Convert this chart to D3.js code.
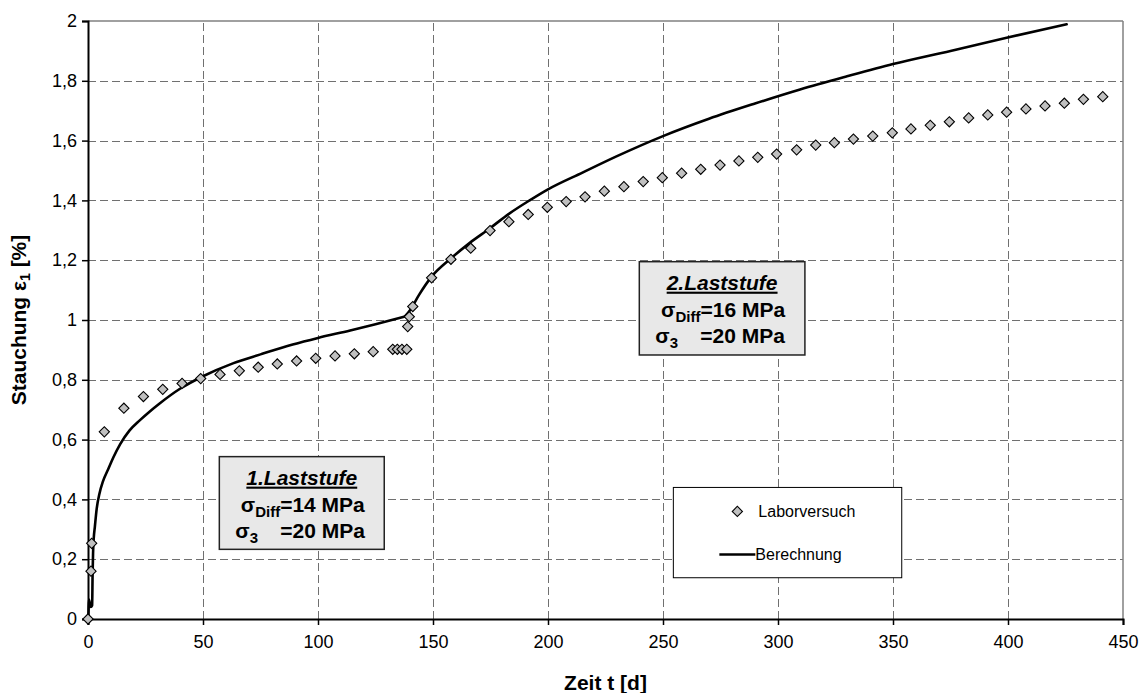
<!DOCTYPE html>
<html>
<head>
<meta charset="utf-8">
<script src="https://cdn.jsdelivr.net/npm/d3@7/dist/d3.min.js"></script>
<style>
  html, body { margin: 0; padding: 0; background: #fff; }
  svg { display: block; font-family: Arial, "Liberation Sans", sans-serif; }
</style>
</head>
<body>
<svg id="chart" width="1144" height="693"></svg>
<script>
// Laborversuch: measured strain over time
const labTime = [0, 1.3, 1.6, 7.1, 15.6, 24.1, 32.5, 40.9, 49.0, 57.4, 65.8, 74.0, 82.3, 90.7, 99.0, 107.4,
  115.8, 124.0, 132.5, 134.5, 136.5, 138.6, 139.0, 139.7, 141.2, 149.4, 157.8, 166.4, 174.8, 183.0,
  191.4, 199.7, 207.9, 216.1, 224.5, 233.0, 241.4, 249.7, 258.1, 266.4, 274.8, 283.0, 291.2, 299.4,
  308.1, 316.4, 324.5, 332.8, 341.2, 349.7, 357.8, 366.2, 374.5, 382.9, 391.2, 399.4, 407.8, 416.1,
  424.5, 432.8, 441.2];
const labStrain = [0, 0.16, 0.253, 0.626, 0.705, 0.744, 0.768, 0.788, 0.804, 0.818, 0.830, 0.842, 0.853, 0.863, 0.872, 0.880,
  0.887, 0.894, 0.902, 0.902, 0.902, 0.902, 0.978, 1.011, 1.045, 1.141, 1.203, 1.240, 1.299, 1.329,
  1.353, 1.377, 1.396, 1.412, 1.431, 1.446, 1.463, 1.476, 1.491, 1.504, 1.518, 1.532, 1.544, 1.555,
  1.569, 1.585, 1.593, 1.605, 1.615, 1.626, 1.639, 1.651, 1.663, 1.676, 1.686, 1.695, 1.706, 1.716,
  1.725, 1.738, 1.747];

// Berechnung, 1st load stage: computed creep curve up to the load change
const calcTime1 = [0, 0.2, 0.4, 1.2, 1.8, 2.0, 2.2, 2.5, 3.0, 3.8, 5.0, 6.5, 9.0, 11, 14, 18, 22.6, 27, 31, 40,
  50, 63, 75, 89, 100, 114, 125, 137.8];
const calcStrain1 = [0, 0.02, 0.065, 0.04, 0.045, 0.15, 0.22, 0.27, 0.31, 0.37, 0.42, 0.46, 0.505, 0.54, 0.585, 0.63, 0.665, 0.695, 0.72, 0.77,
  0.812, 0.855, 0.885, 0.918, 0.94, 0.965, 0.986, 1.012];
// Berechnung, 2nd load stage
const calcTime2 = [137.8, 140, 144, 149.4, 157.8, 166, 174.8, 183, 192.2, 200, 215,
  230, 250, 270, 290, 309.6, 330, 350, 375, 399.4, 425.5];
const calcStrain2 = [1.012, 1.033, 1.085, 1.145, 1.206, 1.258, 1.307, 1.355, 1.401, 1.437, 1.493,
  1.548, 1.615, 1.673, 1.724, 1.771, 1.815, 1.856, 1.90, 1.944, 1.989];

// Axis ticks
const xTicks = [0, 50, 100, 150, 200, 250, 300, 350, 400, 450];
const yTicks = [0, 0.2, 0.4, 0.6, 0.8, 1.0, 1.2, 1.4, 1.6, 1.8, 2.0];

// Annotation boxes: load stages
const stageTitles = ["1.Laststufe", "2.Laststufe"];
const stageDiff = ["=14 MPa", "=16 MPa"];
const stageConf = ["=20 MPa", "=20 MPa"];

const svg = d3.select("#chart");
const margin = { left: 88, right: 21, top: 21, bottom: 74 };
const W = 1144, H = 693;

const x = d3.scaleLinear().domain([0, 450]).range([margin.left, W - margin.right]);
const y = d3.scaleLinear().domain([0, 2]).range([H - margin.bottom, margin.top]);

const fmt = d => d3.format("~g")(+d.toFixed(1)).replace(".", ",");

// grid
const grid = svg.append("g").attr("stroke", "#707070").attr("stroke-width", 1)
  .attr("stroke-dasharray", "8,4").attr("fill", "none");
grid.selectAll("line.v").data(xTicks.slice(1, -1)).join("line")
  .attr("x1", d => Math.round(x(d)) + 0.5).attr("x2", d => Math.round(x(d)) + 0.5)
  .attr("y1", y(0)).attr("y2", y(2));
grid.selectAll("line.h").data(yTicks.slice(1, -1)).join("line")
  .attr("y1", d => Math.round(y(d)) + 0.5).attr("y2", d => Math.round(y(d)) + 0.5)
  .attr("x1", x(0)).attr("x2", x(450));

// frame: top and right in gray
svg.append("line").attr("x1", x(0)).attr("x2", x(450)).attr("y1", y(2)).attr("y2", y(2))
  .attr("stroke", "#808080").attr("stroke-width", 1.5);
svg.append("line").attr("x1", x(450)).attr("x2", x(450)).attr("y1", y(2)).attr("y2", y(0))
  .attr("stroke", "#808080").attr("stroke-width", 1.5);

// axes
const xAxis = svg.append("g").attr("transform", `translate(0,${y(0)})`)
  .call(d3.axisBottom(x).tickValues(xTicks).tickSize(6).tickPadding(10).tickFormat(d3.format("d")));
const yAxis = svg.append("g").attr("transform", `translate(${x(0)},0)`)
  .call(d3.axisLeft(y).tickValues(yTicks).tickSize(6).tickPadding(5).tickFormat(fmt));
[xAxis, yAxis].forEach(a => {
  a.select(".domain").attr("stroke", "#000").attr("stroke-width", 2);
  a.selectAll(".tick line").attr("stroke", "#000").attr("stroke-width", 1.5);
  a.selectAll(".tick text").attr("font-size", 18).attr("fill", "#000")
    .attr("font-family", "Arial, 'Liberation Sans', sans-serif");
});

// axis titles
svg.append("text").attr("x", (x(0) + x(450)) / 2).attr("y", 690)
  .attr("text-anchor", "middle").attr("font-size", 21).attr("font-weight", "bold")
  .text("Zeit t [d]");
const yt = svg.append("text")
  .attr("transform", `translate(26,${(y(0) + y(2)) / 2}) rotate(-90)`)
  .attr("text-anchor", "middle").attr("font-size", 21).attr("font-weight", "bold");
yt.append("tspan").text("Stauchung ε");
yt.append("tspan").attr("font-size", 14).attr("dy", 4).text("1");
yt.append("tspan").attr("dy", -4).text(" [%]");

// annotation boxes (anchored in data coordinates)
const boxes = [
  { t0: 57.1, t1: 128.8, v0: 0.543, v1: 0.233 },
  { t0: 239.7, t1: 311.7, v0: 1.195, v1: 0.883 }
];
boxes.forEach((b, i) => {
  const bx = x(b.t0), by = y(b.v0), bw = x(b.t1) - x(b.t0), bh = y(b.v1) - y(b.v0);
  const g = svg.append("g");
  g.append("rect").attr("x", bx).attr("y", by).attr("width", bw).attr("height", bh)
    .attr("fill", "#e8e8e8").attr("stroke", "#222").attr("stroke-width", 1.5);
  const cx = bx + bw / 2;
  g.append("text").attr("x", cx).attr("y", by + 28).attr("text-anchor", "middle")
    .attr("font-size", 21).attr("font-weight", "bold").attr("font-style", "italic")
    .attr("text-decoration", "underline").text(stageTitles[i]);
  const l2 = g.append("text").attr("x", cx + 1).attr("y", by + 55).attr("text-anchor", "middle")
    .attr("font-size", 21).attr("font-weight", "bold");
  l2.append("tspan").text("σ");
  l2.append("tspan").attr("font-size", 15).attr("dy", 5).text("Diff");
  l2.append("tspan").attr("dy", -5).text(stageDiff[i]);
  const l3 = g.append("text").attr("y", by + 81).attr("font-size", 21).attr("font-weight", "bold");
  l3.append("tspan").attr("x", bx + 16).text("σ");
  l3.append("tspan").attr("font-size", 15).attr("dy", 5).text("3");
  l3.append("tspan").attr("dy", -5).attr("x", bx + 61).text(stageConf[i]);
});

// computed curve, one smooth piece per load stage
const calcLine = d3.line().curve(d3.curveMonotoneX).x(d => x(d[0])).y(d => y(d[1]));
[[calcTime1, calcStrain1], [calcTime2, calcStrain2]].forEach(([ts, vs]) => {
  svg.append("path")
    .datum(ts.map((t, i) => [t, vs[i]]))
    .attr("fill", "none").attr("stroke", "#000").attr("stroke-width", 2.6)
    .attr("stroke-linejoin", "round").attr("stroke-linecap", "round")
    .attr("d", calcLine);
});

// measured points
const diamond = d3.symbol().type(d3.symbolSquare).size(52);
svg.append("g").selectAll("path")
  .data(labTime.map((t, i) => [t, labStrain[i]]))
  .join("path")
  .attr("d", diamond)
  .attr("transform", d => `translate(${x(d[0])},${y(d[1])}) rotate(45)`)
  .attr("fill", "#c0c0c0").attr("stroke", "#000").attr("stroke-width", 1.1);

// legend
const lg = { t0: 254.5, t1: 353.8, v0: 0.440, v1: 0.138 };
const lx = x(lg.t0), ly = y(lg.v0), lw = x(lg.t1) - x(lg.t0), lh = y(lg.v1) - y(lg.v0);
const legend = svg.append("g");
legend.append("rect").attr("x", lx).attr("y", ly).attr("width", lw).attr("height", lh)
  .attr("fill", "#fff").attr("stroke", "#000").attr("stroke-width", 1);
legend.append("path").attr("d", diamond)
  .attr("transform", `translate(${lx + 64},${ly + 24}) rotate(45)`)
  .attr("fill", "#c0c0c0").attr("stroke", "#000").attr("stroke-width", 1.1);
legend.append("text").attr("x", lx + 85).attr("y", ly + 24).attr("dy", "0.35em")
  .attr("font-size", 16).text("Laborversuch");
legend.append("line").attr("x1", lx + 46).attr("x2", lx + 82).attr("y1", ly + 67).attr("y2", ly + 67)
  .attr("stroke", "#000").attr("stroke-width", 2.6);
legend.append("text").attr("x", lx + 82).attr("y", ly + 67).attr("dy", "0.35em")
  .attr("font-size", 16).text("Berechnung");
</script>
</body>
</html>
